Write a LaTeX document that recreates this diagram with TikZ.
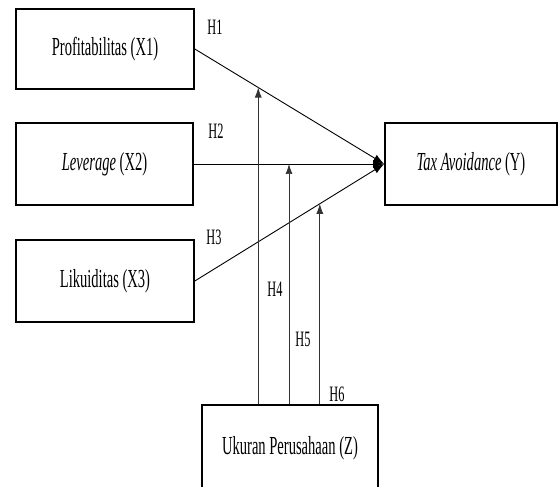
\documentclass[tikz,border=0pt]{standalone}
\usepackage{fontspec}
\setmainfont{Liberation Serif}
\newfontfamily\condfont[FakeStretch=0.56]{Liberation Serif}
\usetikzlibrary{arrows.meta,calc}
\begin{document}
\begin{tikzpicture}[x=1pt,y=-1pt,
  box/.style={draw,line width=1.6pt,inner sep=0pt,font=\condfont\fontsize{26}{30}\selectfont},
  hlab/.style={font=\condfont\fontsize{22}{26}\selectfont,inner sep=0pt},
  link/.style={line width=0.9pt,-{Latex[length=11pt,width=8pt]}},
  modline/.style={line width=0.7pt,draw=black!80,-{Latex[length=10pt,width=7pt]}}]
\useasboundingbox (0,0) rectangle (558,487);
\clip (0,0) rectangle (558,487);
\node[box,minimum width=178pt,minimum height=80pt] (X1) at (105,49) {Profitabilitas (X1)};
\node[box,minimum width=177pt,minimum height=82pt] (X2) at (104.5,164) {\itshape Leverage\upshape{} (X2)};
\node[box,minimum width=178pt,minimum height=82pt] (X3) at (105,281) {Likuiditas (X3)};
\node[box,minimum width=172pt,minimum height=82pt] (Y) at (471,164) {\itshape Tax Avoidance\upshape{} (Y)};
\node[box,minimum width=176pt,minimum height=86pt] (Z) at (290,448) {Ukuran Perusahaan (Z)};
\draw[link] (X1.east) -- (Y.west);
\draw[link] (X2.east) -- (Y.west);
\draw[link] (X3.east) -- (Y.west);
\coordinate (p1) at ($(X1.east)!0.335!(Y.west)$);
\coordinate (p2) at ($(X2.east)!0.5!(Y.west)$);
\coordinate (p3) at ($(X3.east)!0.66!(Y.west)$);
\draw[modline] (p1 |- Z.north) -- (p1);
\draw[modline] (p2 |- Z.north) -- (p2);
\draw[modline] (p3 |- Z.north) -- (p3);
\node[hlab] (h1) at (215,27) {H1};
\node[hlab] (h2) at (216,131) {H2};
\node[hlab] (h3) at (214,237) {H3};
\node[hlab] (h4) at (275,289) {H4};
\node[hlab] (h5) at (303,339) {H5};
\node[hlab] (h6) at (337,394) {H6};
\end{tikzpicture}
\end{document}
